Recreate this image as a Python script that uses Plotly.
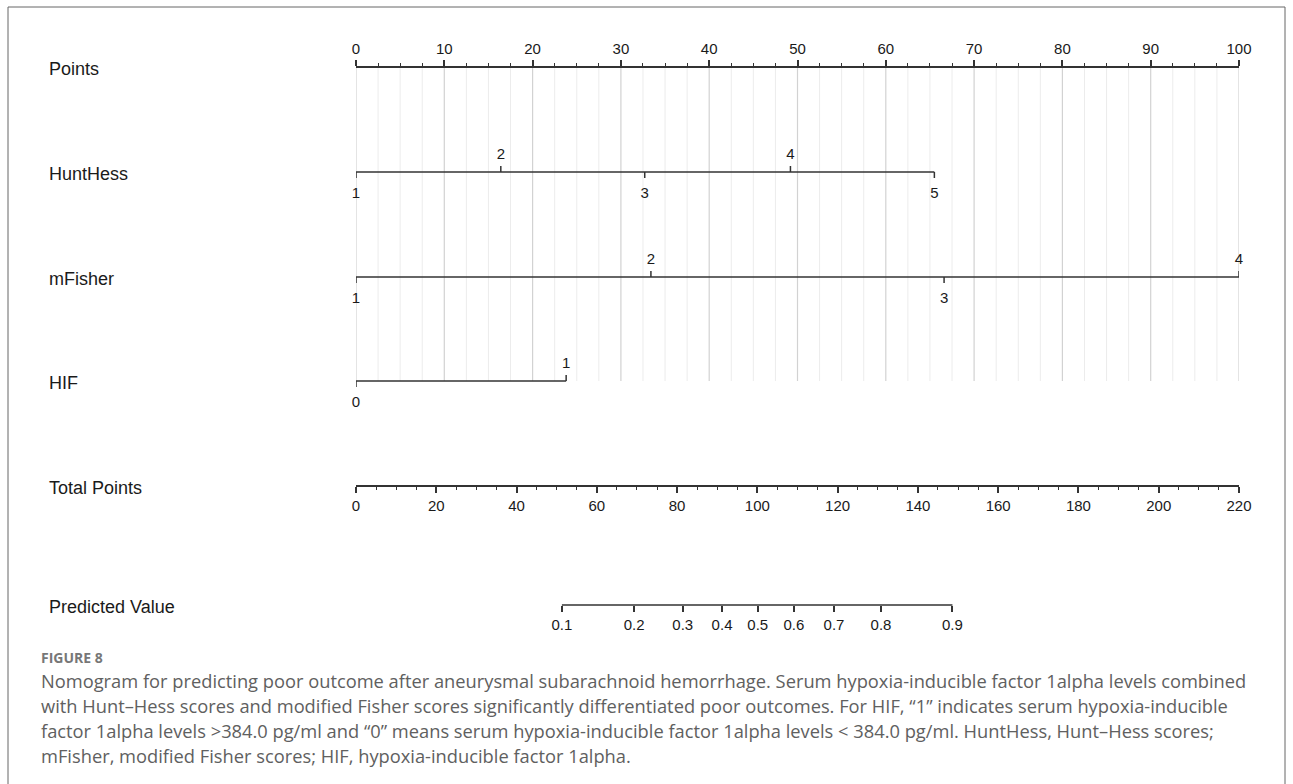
import plotly.graph_objects as go

# ---------------- data ----------------
points_ticks = list(range(0, 101, 10))
hunthess_levels = ["1", "2", "3", "4", "5"]
hunthess_points = [0, 16.4, 32.7, 49.2, 65.5]
mfisher_levels = ["1", "2", "3", "4"]
mfisher_points = [0, 33.4, 66.6, 100]
hif_levels = ["0", "1"]
hif_points = [0, 23.8]
total_ticks = list(range(0, 221, 20))
pred_labels = ["0.1", "0.2", "0.3", "0.4", "0.5", "0.6", "0.7", "0.8", "0.9"]
pred_total = [51.3, 69.3, 81.4, 91.2, 100.1, 109.1, 119.1, 130.8, 148.6]

row_names = ["Points", "HuntHess", "mFisher", "HIF", "Total Points", "Predicted Value"]

caption_title = "FIGURE 8"
caption_lines = [
    "Nomogram for predicting poor outcome after aneurysmal subarachnoid hemorrhage. Serum hypoxia-inducible factor 1alpha levels combined",
    "with Hunt\u2013Hess scores and modified Fisher scores significantly differentiated poor outcomes. For HIF, \u201c1\u201d indicates serum hypoxia-inducible",
    "factor 1alpha levels &gt;384.0 pg/ml and \u201c0\u201d means serum hypoxia-inducible factor 1alpha levels &lt; 384.0 pg/ml. HuntHess, Hunt\u2013Hess scores;",
    "mFisher, modified Fisher scores; HIF, hypoxia-inducible factor 1alpha.",
]

# ---------------- layout constants ----------------
W, H = 1293, 784
X0, X1 = 356, 1239
ROW_Y = [67, 172, 277, 381, 486, 605]
FONT = "Liberation Sans, Arial, sans-serif"
INK = "#333333"
TXT = "#1a1a1a"

fig = go.Figure()

# grid lines (every 2.5 points, darker every 10)
minor_x, minor_y, major_x, major_y = [], [], [], []
v = 0.0
while v <= 100.0001:
    if abs(v / 10 - round(v / 10)) < 1e-6:
        major_x += [v, v, None]
        major_y += [ROW_Y[0], ROW_Y[3], None]
    else:
        minor_x += [v, v, None]
        minor_y += [ROW_Y[0], ROW_Y[3], None]
    v += 2.5
fig.add_trace(go.Scatter(x=minor_x, y=minor_y, mode="lines", cliponaxis=False,
                         line=dict(color="#ececec", width=1), hoverinfo="skip"))
fig.add_trace(go.Scatter(x=major_x, y=major_y, mode="lines", cliponaxis=False,
                         line=dict(color="#d2d2d2", width=1.2), hoverinfo="skip"))

TICK = 6
# variable rows
for levels, pts, ry in [(hunthess_levels, hunthess_points, ROW_Y[1]),
                        (mfisher_levels, mfisher_points, ROW_Y[2]),
                        (hif_levels, hif_points, ROW_Y[3])]:
    fig.add_trace(go.Scatter(x=[min(pts), max(pts)], y=[ry, ry], mode="lines",
                             cliponaxis=False,
                             line=dict(color=INK, width=1.5), hoverinfo="skip"))
    tx, ty = [], []
    ax, ay, at, bx, by, bt = [], [], [], [], [], []
    for i, (lab, p) in enumerate(zip(levels, pts)):
        if i % 2 == 0:  # label below, tick down
            tx += [p, p, None]
            ty += [ry, ry + TICK, None]
            bx.append(p); by.append(ry + 22); bt.append(lab)
        else:
            tx += [p, p, None]
            ty += [ry, ry - TICK, None]
            ax.append(p); ay.append(ry - 17); at.append(lab)
    fig.add_trace(go.Scatter(x=tx, y=ty, mode="lines", cliponaxis=False,
                             line=dict(color=INK, width=1.5), hoverinfo="skip"))
    fig.add_trace(go.Scatter(x=ax + bx, y=ay + by, text=at + bt, mode="text",
                             cliponaxis=False,
                             textfont=dict(family=FONT, size=15, color=TXT),
                             hoverinfo="skip"))

# predicted value line
fig.add_trace(go.Scatter(x=[pred_total[0], pred_total[-1]], y=[ROW_Y[5], ROW_Y[5]],
                         mode="lines", xaxis="x3", cliponaxis=False,
                         line=dict(color=INK, width=1.5), hoverinfo="skip"))

# row names
for name, ry in zip(row_names, ROW_Y):
    fig.add_annotation(text=name, xref="paper", yref="y", x=47 / W, y=ry + 2,
                       xanchor="left", yanchor="middle", showarrow=False,
                       font=dict(family=FONT, size=18, color=TXT))

# caption
fig.add_annotation(text="<b>" + caption_title + "</b>", xref="paper", yref="y",
                   x=39 / W, y=657, xanchor="left", yanchor="middle", showarrow=False,
                   font=dict(family="Open Sans, sans-serif", size=14, color="#777777"))
for i, line in enumerate(caption_lines):
    fig.add_annotation(text=line, xref="paper", yref="y", x=39 / W, y=680 + 25 * i,
                       xanchor="left", yanchor="middle", showarrow=False,
                       font=dict(family="Open Sans, sans-serif", size=18.3, color="#606060"))

# border
fig.add_shape(type="rect", xref="paper", yref="paper", x0=8 / W, x1=1285 / W,
              y0=-0.05, y1=1 - 7 / H, line=dict(color="#666666", width=1))

dom = [X0 / W, X1 / W]
tickfont = dict(family=FONT, size=15, color=TXT)
fig.update_layout(
    template="none",
    width=W, height=H, margin=dict(l=0, r=0, t=0, b=0, pad=0, autoexpand=False),
    paper_bgcolor="white", plot_bgcolor="white", showlegend=False,
    xaxis=dict(domain=dom, range=[0, 100], side="top", anchor="free", automargin=False,
               position=1 - ROW_Y[0] / H, showline=True, linecolor=INK, linewidth=1.5,
               ticks="outside", ticklen=6, tickwidth=1.5, tickcolor=INK,
               tickvals=points_ticks, showgrid=False, zeroline=False,
               tickfont=tickfont,
               minor=dict(dtick=2.5, ticks="outside", ticklen=3, tickwidth=1,
                          tickcolor=INK, showgrid=False)),
    xaxis2=dict(overlaying="x", domain=dom, range=[0, 220], side="bottom", anchor="free",
                automargin=False,
                position=1 - ROW_Y[4] / H, showline=True, linecolor=INK, linewidth=1.5,
                ticks="outside", ticklen=6, tickwidth=1.5, tickcolor=INK,
                tickvals=total_ticks, showgrid=False, zeroline=False, tickfont=tickfont,
                minor=dict(dtick=5, ticks="outside", ticklen=3, tickwidth=1,
                           tickcolor=INK, showgrid=False)),
    xaxis3=dict(overlaying="x", domain=dom, range=[0, 220], side="bottom", anchor="free",
                automargin=False,
                position=1 - ROW_Y[5] / H, showline=False,
                ticks="outside", ticklen=6, tickwidth=1.5, tickcolor=INK,
                tickvals=pred_total, ticktext=pred_labels, showgrid=False,
                zeroline=False, tickfont=tickfont),
    yaxis=dict(domain=[0, 1], range=[H, 0], visible=False, showgrid=False,
               zeroline=False, automargin=False),
)
# dummy trace on xaxis2 so it renders
fig.add_trace(go.Scatter(x=[0], y=[ROW_Y[4]], xaxis="x2", mode="markers",
                         marker=dict(opacity=0), hoverinfo="skip"))

fig.write_html("out.html", config={"displayModeBar": False},
               post_script="document.body.style.margin='0';document.body.style.overflow='hidden';")
